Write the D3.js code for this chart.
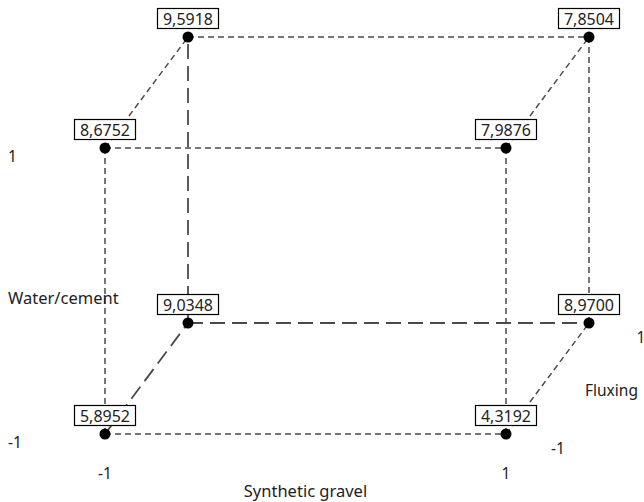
<!DOCTYPE html>
<html>
<head>
<meta charset="utf-8">
<script src="https://cdn.jsdelivr.net/npm/d3@7"></script>
<style>
  html, body { margin: 0; padding: 0; background: #fff; }
  svg text { font-family: "Noto Sans", "Open Sans", sans-serif; fill: #222; }
</style>
</head>
<body>
<svg id="chart" width="644" height="502"></svg>
<script>
// Factor levels for the three axes of the cube
const gravelLevels = [-1, 1];     // Synthetic gravel (horizontal)
const waterLevels = [-1, 1];      // Water/cement (vertical)
const fluxLevels = [-1, 1];       // Fluxing (depth)

// Response at each corner, listed as [gravel, water/cement, fluxing]
const cornerGravel = [-1, 1, -1, 1, -1, 1, -1, 1];
const cornerWater  = [-1, -1, 1, 1, -1, -1, 1, 1];
const cornerFlux   = [-1, -1, -1, -1, 1, 1, 1, 1];
const cornerValue  = [5.8952, 4.3192, 8.6752, 7.9876, 9.0348, 8.9700, 9.5918, 7.8504];

// Tick labels shown beside each axis
const gravelTicks = ["-1", "1"];
const waterTicks = ["-1", "1"];
const fluxTicks = ["-1", "1"];

const axisTitles = { gravel: "Synthetic gravel", water: "Water/cement", flux: "Fluxing" };

const svg = d3.select("#chart");

// Front face scales plus an oblique offset for the depth axis
const x = d3.scaleLinear().domain([-1, 1]).range([105, 506]);
const y = d3.scaleLinear().domain([-1, 1]).range([434, 148]);
const depthX = d3.scaleLinear().domain([-1, 1]).range([0, 83]);
const depthY = d3.scaleLinear().domain([-1, 1]).range([0, -111]);

const corners = cornerValue.map((v, i) => ({
  g: cornerGravel[i], w: cornerWater[i], f: cornerFlux[i], value: v
}));
const px = d => x(d.g) + depthX(d.f);
const py = d => y(d.w) + depthY(d.f);

// Cube edges join corners that differ in exactly one factor
const edges = [];
corners.forEach((a, i) => corners.forEach((b, j) => {
  if (j <= i) return;
  const diff = (a.g !== b.g) + (a.w !== b.w) + (a.f !== b.f);
  if (diff === 1) edges.push([a, b]);
}));
// Edges meeting at the hidden rear-bottom-left corner use a longer dash
const hidden = d => d.g === -1 && d.w === -1 && d.f === 1;
const isHidden = e => hidden(e[0]) || hidden(e[1]);

svg.append("g").selectAll("line").data(edges).join("line")
  .attr("x1", d => px(d[0])).attr("y1", d => py(d[0]))
  .attr("x2", d => px(d[1])).attr("y2", d => py(d[1]))
  .attr("stroke", "#4a4a4a")
  .attr("stroke-width", d => isHidden(d) ? 1.8 : 1.5)
  .attr("stroke-dasharray", d => isHidden(d) ? "15,7" : "6,4");

svg.append("g").selectAll("circle").data(corners).join("circle")
  .attr("cx", px).attr("cy", py).attr("r", 5.5).attr("fill", "#000");

// Value labels in white boxes above each corner
const fmt = d3.formatLocale({ decimal: ",", thousands: ".", grouping: [3], currency: ["", ""] }).format(".4f");
const lab = svg.append("g").selectAll("g").data(corners).join("g")
  .attr("transform", d => `translate(${px(d)},${py(d) - 18})`);
lab.append("rect")
  .attr("x", -30.5).attr("y", -10.5).attr("width", 61).attr("height", 20)
  .attr("fill", "#fff").attr("stroke", "#000").attr("stroke-width", 1.2);
lab.append("text")
  .attr("text-anchor", "middle").attr("dy", "0.36em")
  .attr("font-size", 16)
  .text(d => fmt(d.value));

// Axis tick labels
const tickSize = 15.5;
const titleSize = 16.5;
svg.append("g").selectAll("text").data(waterLevels).join("text")
  .attr("x", 8).attr("y", d => y(d) + 9).attr("dy", "0.35em")
  .attr("font-size", tickSize)
  .text((d, i) => waterTicks[i]);
svg.append("g").selectAll("text").data(gravelLevels).join("text")
  .attr("x", d => x(d)).attr("y", 474).attr("dy", "0.35em")
  .attr("text-anchor", "middle").attr("font-size", tickSize)
  .text((d, i) => gravelTicks[i]);
svg.append("g").selectAll("text").data(fluxLevels).join("text")
  .attr("x", d => x(1) + 52 + depthX(d)).attr("y", d => y(-1) + 15 + depthY(d)).attr("dy", "0.35em")
  .attr("text-anchor", "middle").attr("font-size", tickSize)
  .text((d, i) => fluxTicks[i]);

// Axis titles
svg.append("text").attr("x", (x(-1) + x(1)) / 2).attr("y", 491).attr("dy", "0.35em")
  .attr("text-anchor", "middle").attr("font-size", titleSize).text(axisTitles.gravel);
svg.append("text").attr("x", 8).attr("y", 298).attr("dy", "0.35em")
  .attr("font-size", titleSize).text(axisTitles.water);
svg.append("text").attr("x", 585).attr("y", 391).attr("dy", "0.35em")
  .attr("font-size", 15.5).text(axisTitles.flux);
</script>
</body>
</html>
